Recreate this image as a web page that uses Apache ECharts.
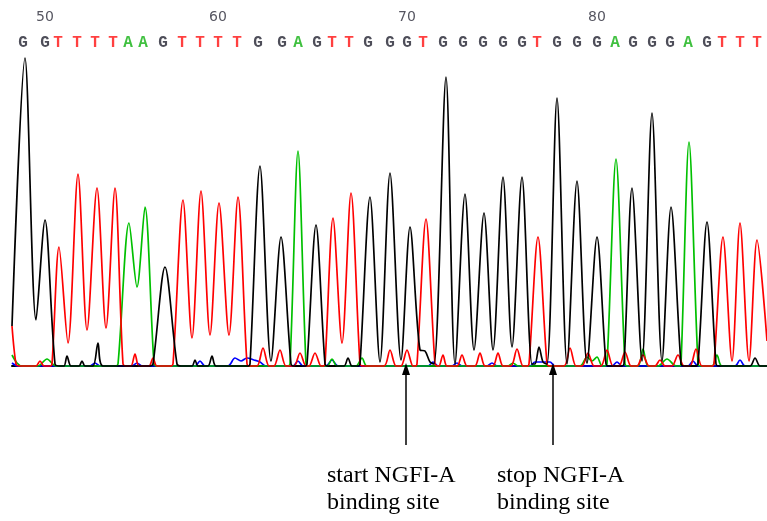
<!DOCTYPE html>
<html><head><meta charset="utf-8">
<script src="https://cdn.jsdelivr.net/npm/echarts@6/dist/echarts.min.js"></script>
<style>html,body{margin:0;padding:0;background:#fff}#c{width:767px;height:521px}</style>
</head><body><div id="c"></div>
<script>
// Base calls (positions 49..89) and the scan where each call sits
const firstBase = 49;
const bases = "GGTTTTAAGTTTTGGAGTTGGGTGGGGGTGGGAGGGAGTTT".split('');
const basePositions = [23,45,58,77,95,113,128,143,163,182,200,218,237,258,282,298,317,332,349,368,390,407,423,443,463,483,503,522,537,557,577,597,615,633,652,670,688,707,722,740,757];
const tickNumbers = [50,60,70,80];
const arrowScans = [406, 553];
const annotations = ["start NGFI-A\nbinding site", "stop NGFI-A\nbinding site"];

// Trace intensities [scan, signal]
const traceG = [[12,40],[25,308],[36,46],[45,146],[55,2],[60,0],[64,0],[67,10],[71,0],[79,0],[82,5],[85,0],[93,0],[98,23],[103,0],[150,0],[153,2],[165,99],[177,2],[181,0],[192,0],[195,6],[198,0],[208,0],[212,10],[216,0],[248,0],[250,2],[260,200],[271,5],[281,129],[291,2],[294,0],[305,0],[307,2],[316,141],[325,2],[328,0],[344,0],[348,8],[352,0],[358,0],[360,2],[370,169],[380,4],[390,193],[401,6],[410,139],[420,16],[425,15],[430,4],[434,2],[446,289],[455,2],[465,172],[474,16],[484,153],[493,16],[503,189],[512,19],[522,189],[532,2],[535,2],[539,19],[543,4],[547,2],[557,268],[567,2],[577,185],[587,3],[597,129],[606,2],[609,0],[621,0],[624,2],[632,178],[642,5],[652,253],[662,5],[671,159],[681,2],[684,0],[695,0],[698,2],[707,144],[716,2],[719,0],[750,0],[755,8],[760,0],[767,0]];
const traceT = [[12,40],[16,2],[19,0],[36,0],[40,5],[44,0],[50,0],[52,2],[59,119],[68,23],[78,192],[87,36],[97,178],[106,38],[115,178],[123,2],[127,0],[131,0],[135,12],[139,0],[149,0],[153,8],[157,0],[170,0],[173,2],[183,166],[192,28],[201,175],[210,31],[219,163],[229,31],[238,169],[247,2],[250,0],[257,0],[263,18],[269,0],[274,0],[280,16],[286,0],[294,0],[300,13],[306,0],[309,0],[315,13],[321,0],[323,0],[325,2],[333,148],[342,23],[351,173],[360,2],[363,0],[384,0],[390,16],[396,0],[401,0],[407,16],[413,0],[415,0],[417,2],[426,147],[435,2],[438,0],[439,0],[443,11],[447,0],[457,0],[462,11],[467,0],[475,0],[480,13],[485,0],[493,0],[498,13],[503,0],[511,0],[517,17],[523,0],[527,0],[529,2],[538,129],[547,2],[550,0],[564,0],[570,18],[576,0],[582,0],[588,13],[594,0],[601,0],[607,16],[613,0],[619,0],[625,14],[631,0],[637,0],[643,11],[649,0],[655,0],[660,6],[665,0],[672,0],[678,11],[684,0],[690,0],[696,17],[702,0],[712,0],[714,2],[723,129],[732,5],[740,143],[749,5],[757,126],[767,25]];
const traceA = [[12,11],[17,3],[22,0],[38,0],[47,7],[56,0],[115,0],[118,2],[129,143],[137,79],[145,159],[154,2],[157,0],[287,0],[290,2],[298,215],[306,2],[309,0],[327,0],[332,7],[337,0],[356,0],[362,8],[367,0],[508,0],[513,3],[518,0],[580,0],[587,9],[592,5],[597,9],[602,0],[604,0],[607,2],[616,207],[625,2],[628,0],[638,0],[643,17],[648,0],[658,0],[667,7],[676,0],[679,0],[681,2],[689,224],[698,2],[701,0],[712,0],[717,11],[722,0],[767,0]];
const traceC = [[12,3],[18,0],[90,0],[95,3],[100,0],[132,0],[137,3],[142,0],[195,0],[200,5],[205,0],[228,0],[235,8],[241,5],[247,8],[254,6],[260,4],[266,0],[293,0],[298,5],[303,0],[326,0],[332,6],[338,0],[428,0],[433,4],[438,0],[452,0],[457,3],[462,0],[487,0],[492,3],[497,0],[530,0],[535,4],[550,4],[555,0],[612,0],[617,4],[622,0],[688,0],[693,5],[698,0],[735,0],[740,6],[745,0],[767,0]];

const baseColors = {G:'#222230', T:'#ff1010', A:'#10b010', C:'#0000ff'};
const traceColors = {G:'#000000', T:'#ff0000', A:'#00c000', C:'#0000ff'};

const chart = echarts.init(document.getElementById('c'));
const trace = (name, data, z) => ({
  type:'line', name, data, symbol:'none', showSymbol:false, smooth:0.3,
  lineStyle:{color:traceColors[name], width:1.7}, z, silent:true, clip:false
});
const letterLevel = 323, numberLevel = 349;

chart.setOption({
  animation:false,
  grid:{left:12, right:0, top:0, bottom:0},
  xAxis:{type:'value', min:12, max:767,
    axisLine:{show:true, onZero:true, lineStyle:{color:'#000', width:2}},
    axisTick:{show:false}, axisLabel:{show:false}, splitLine:{show:false}},
  yAxis:{type:'value', min:-155, max:366, axisLine:{show:false}, axisTick:{show:false},
    axisLabel:{show:false}, splitLine:{show:false}},
  series:[
    trace('C', traceC, 2),
    trace('A', traceA, 3),
    trace('T', traceT, 4),
    trace('G', traceG, 5),
    {type:'scatter', silent:true, symbolSize:1, itemStyle:{color:'rgba(0,0,0,0)'},
      data: bases.map((b,i)=>({name:b, value:[basePositions[i], letterLevel], label:{color:baseColors[b]}})),
      label:{show:true, position:'inside', formatter:'{b}', fontFamily:'Liberation Mono', fontWeight:'bold', fontSize:16}},
    {type:'scatter', silent:true, symbolSize:1, itemStyle:{color:'rgba(0,0,0,0)'},
      data: tickNumbers.map(n=>({name:String(n), value:[basePositions[n-firstBase], numberLevel]})),
      label:{show:true, position:'inside', formatter:'{b}', fontFamily:'DejaVu Sans', fontSize:14, color:'#2a2a38'},
      markLine:{silent:true, symbol:['none','triangle'], symbolSize:[8,12],
        lineStyle:{color:'#000', width:1.5, type:'solid'}, label:{show:false},
        data: arrowScans.map(x=>[{coord:[x,-79]},{coord:[x,-3]}])}}
  ],
  graphic: annotations.map((t,i)=>({type:'text', left: i===0 ? 327 : 497, top: 462,
    style:{text:t, font:'24px "Liberation Serif"', lineHeight:27, fill:'#000'}}))
});
</script></body></html>
